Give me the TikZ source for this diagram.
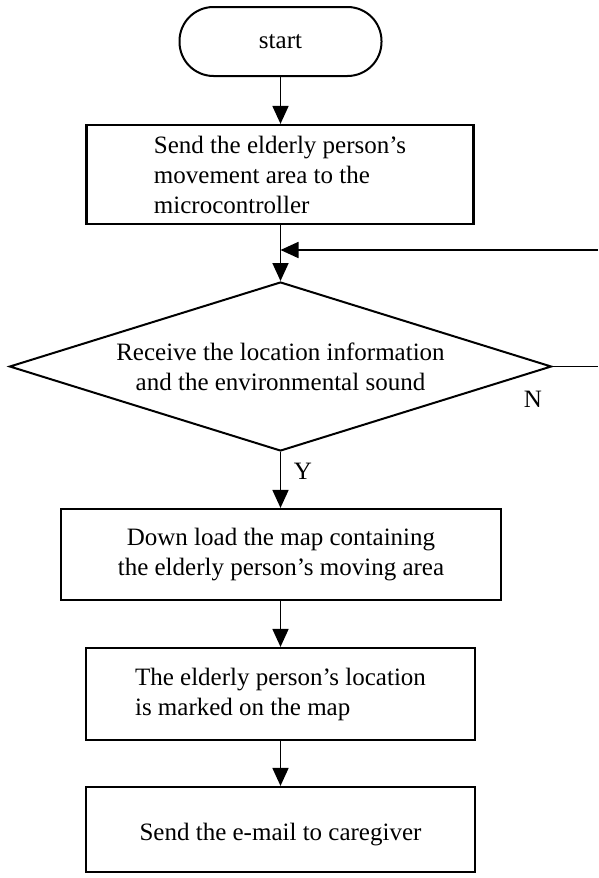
\documentclass[tikz,border=0pt]{standalone}
\usepackage{fontspec}
\setmainfont{Liberation Serif}
\usetikzlibrary{shapes.geometric,arrows.meta}
\begin{document}
\begin{tikzpicture}[x=1pt,y=-1pt,
  every node/.style={font=\fontsize{25}{30}\selectfont},
  line/.style={line width=1.8pt},
  arr/.style={line width=1.8pt,-{Triangle[length=18pt,width=16pt]}},
  procbox/.style={draw,line width=2.2pt,rectangle,inner sep=0pt},
  termbox/.style={draw,line width=2pt,rectangle,rounded corners=34pt,inner sep=0pt},
  decbox/.style={draw,line width=2pt,diamond,inner sep=0pt,aspect=3.2,align=center}]
\useasboundingbox (0,0) rectangle (598,878);
\node[termbox,minimum width=202pt,minimum height=69pt] (start) at (280.5,41.5) {start};
\node[procbox,minimum width=387pt,minimum height=99pt,align=left] (box1) at (280,174.5)
  {Send the elderly person's\\movement area to the\\microcontroller};
\coordinate (join) at (280.5,250);
\node[decbox,minimum width=542pt,minimum height=169pt] (dec) at (280.5,366.5)
  {Receive the location information\\and the environmental sound};
\node[procbox,minimum width=440pt,minimum height=91pt,align=center] (box2) at (281,554.5)
  {Down load the map containing\\the elderly person's moving area};
\node[procbox,minimum width=389pt,minimum height=92pt,align=left] (box3) at (280.5,694)
  {The elderly person's location\\is marked on the map};
\node[procbox,minimum width=389pt,minimum height=85pt] (box4) at (280.5,829.5) {};
\node (t4) at (280.5,835) {Send the e-mail to caregiver};
\coordinate (fr1) at (598,250);
\coordinate (fr2) at (598,366.5);
\node (ylab) at (303,471) {Y};
\node (nlab) at (533,399) {N};
\draw[arr] (start.south) -- (start.south |- box1.north);
\draw[line] (box1.south -| join) -- (join);
\draw[arr] (join) -- (dec.north);
\draw[arr] (fr1) -- (join);
\draw[line] (dec.east) -- (fr2);
\draw[arr] (dec.south) -- (dec.south |- box2.north);
\draw[arr] (box2.south -| dec.south) -- (dec.south |- box3.north);
\draw[arr] (box3.south) -- (box4.north);
\end{tikzpicture}
\end{document}
